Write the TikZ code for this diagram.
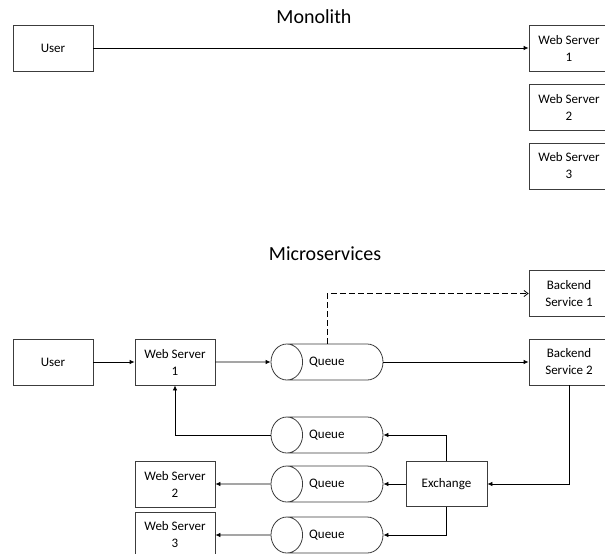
\documentclass[tikz,border=0pt]{standalone}
\usepackage{fontspec}
\setmainfont{Carlito}
\usetikzlibrary{positioning,arrows.meta,shapes.geometric}
\definecolor{LineGray}{RGB}{60,60,60}
\tikzset{
	box/.style={draw=LineGray,line width=0.8pt,minimum width=80pt,minimum height=46pt,
		align=center,inner sep=1pt,font=\fontsize{13}{17}\selectfont},
	queue/.style={cylinder,shape border rotate=180,draw=LineGray,line width=0.8pt,
		minimum width=36pt,minimum height=112pt,aspect=2.6,inner sep=1pt,
		text width=57pt,align=left,
		anchor=shape center,font=\fontsize{13}{17}\selectfont},
	link/.style={draw=black,line width=0.8pt,-{Latex[length=5pt,width=4.5pt]}},
	title/.style={font=\fontsize{20}{24}\selectfont},
}

\begin{document}
\begin{tikzpicture}[x=1pt,y=-1pt]
	\useasboundingbox (0,0) rectangle (605,554);
	% monolith
	\node[title] (monotitle) at (314,17) {Monolith};
	\node[box] (user) at (53,48) {User};
	\foreach \n/\y in {1/48,2/107,3/166}
	\node[box] (ws\n) at (569,\y) {Web Server\\\n};
	\draw[link] (user) -- (ws1);
	% microservices
	\node[title] (microtitle) at (325,254) {Microservices};
	\node[box] (muser) at (53,362) {User};
	\node[box] (mws1) at (175,362) {Web Server\\1};
	\node[box] (mws2) at (175,484) {Web Server\\2};
	\node[box] (mws3) at (175,535) {Web Server\\3};
	\node[box] (back1) at (569,293.5) {Backend\\Service 1};
	\node[box] (back2) at (569,362) {Backend\\Service 2};
	\node[box,minimum width=81pt,minimum height=45pt] (exch) at (446.5,484) {Exchange};
	\foreach \n/\y in {1/362,2/435,3/484,4/535}
	\node[queue] (q\n) at (327,\y) {Queue};
	\draw[link] (muser) -- (mws1);
	\draw[link] (mws1) -- (q1);
	\draw[link] (q1) -- (back2);
	\draw[link,dash pattern=on 6pt off 3pt,-{Straight Barb[length=4pt,width=6pt]}]
		(q1.shape center |- q1.north) |- (back1);
	\draw[link] (back2) |- (exch);
	\draw[link] (exch) |- (q2);
	\draw[link] (exch) -- (q3);
	\draw[link] (exch) |- (q4);
	\draw[link] (q2) -| (mws1);
	\draw[link] (q3) -- (mws2);
	\draw[link] (q4) -- (mws3);
\end{tikzpicture}
\end{document}
